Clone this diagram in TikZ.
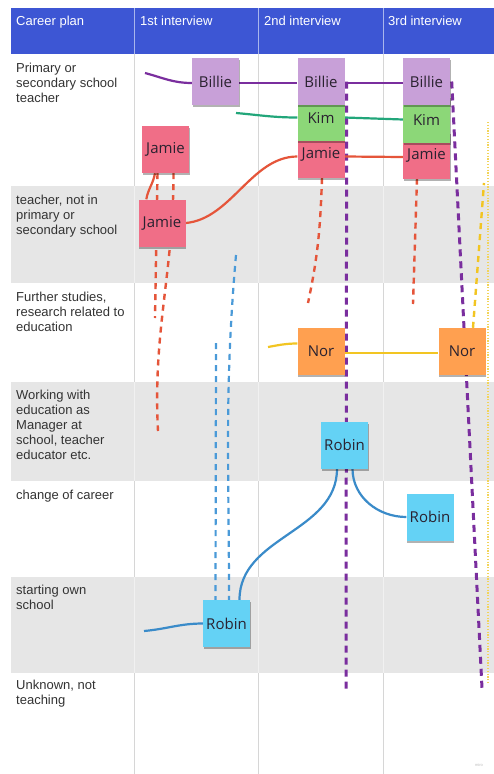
\documentclass[tikz,border=0pt]{standalone}
\usepackage{fontspec}
\setmainfont{Liberation Sans}
\newfontfamily\notefont{Open Sans}
\usetikzlibrary{shadows}
\pgfdeclarelayer{grid}
\pgfdeclarelayer{lines}
\pgfsetlayers{grid,lines,main}

\definecolor{hdr}{HTML}{3D56D4}
\definecolor{band}{HTML}{E6E6E6}
\definecolor{gridc}{HTML}{D6D6D6}
\definecolor{gridl}{HTML}{F1F1F1}
\definecolor{hdrl}{HTML}{A9B6EC}
\definecolor{labelc}{HTML}{333333}
\definecolor{notetext}{HTML}{2A2230}
\definecolor{billie}{HTML}{C8A0D8}
\definecolor{kim}{HTML}{8CD778}
\definecolor{jamie}{HTML}{F06E87}
\definecolor{nor}{HTML}{FFA050}
\definecolor{robin}{HTML}{64D2F5}
\definecolor{billiel}{HTML}{7A2E9E}
\definecolor{kiml}{HTML}{22A67A}
\definecolor{jamiel}{HTML}{E5553A}
\definecolor{norl}{HTML}{F2C522}
\definecolor{norlight}{HTML}{F2D45A}
\definecolor{robinl}{HTML}{3A8BC9}
\definecolor{robind}{HTML}{4A9AD8}

\tikzset{
  hdrtext/.style={anchor=base west, inner sep=0pt, text=white, font=\fontsize{13}{15}\selectfont},
  rowlabel/.style={anchor=north west, inner sep=0pt, align=left, text=labelc, font=\fontsize{13}{15}\selectfont},
  note/.style={minimum width=47pt, minimum height=47pt, inner sep=0pt, text=notetext,
    font=\notefont\fontsize{15}{17}\selectfont,
    drop shadow={shadow xshift=0.5pt, shadow yshift=-2pt, opacity=0.3, fill=black}},
  billieline/.style={draw=billiel, line width=2.2pt},
  kimline/.style={draw=kiml, line width=2.2pt},
  jamieline/.style={draw=jamiel, line width=2.2pt},
  norline/.style={draw=norl, line width=2.2pt},
  robinline/.style={draw=robinl, line width=2.2pt},
  billiedash/.style={draw=billiel, line width=3pt, dash pattern=on 7pt off 5pt},
  jamiedash/.style={draw=jamiel, line width=2.4pt, dash pattern=on 6pt off 5pt},
  robindash/.style={draw=robind, line width=2.2pt, dash pattern=on 6pt off 5pt},
  nordash/.style={draw=norl, line width=2.4pt, dash pattern=on 6pt off 5pt},
  nordot/.style={draw=norlight, line width=1.6pt, dash pattern=on 1.2pt off 1.6pt},
}

\begin{document}
\begin{tikzpicture}[x=1pt,y=-1pt]
\useasboundingbox (0,0) rectangle (494,774);

\begin{pgfonlayer}{grid}
\fill[white] (0,0) rectangle (494,774);
\fill[hdr] (11,8) rectangle (494,54);
\foreach \a/\b in {186/283,382/481,577/673}
  \fill[band] (11,\a) rectangle (494,\b);
\foreach \x in {134,258,383} {
  \draw[hdrl, line width=0.8pt] (\x,8) -- (\x,54);
  \draw[gridc, line width=0.8pt] (\x,54) -- (\x,774);
  \foreach \a/\b in {186/283,382/481,577/673}
    \draw[gridl, line width=0.8pt] (\x,\a) -- (\x,\b);
}
\end{pgfonlayer}

% header
\node[hdrtext] (h0) at (16,25) {Career plan};
\node[hdrtext] (h1) at (140,25) {1st interview};
\node[hdrtext] (h2) at (264,25) {2nd interview};
\node[hdrtext] (h3) at (388,25) {3rd interview};

% row labels
\node[rowlabel] (l1) at (16,63) {Primary or\\secondary school\\teacher};
\node[rowlabel] (l2) at (16,195) {teacher, not in\\primary or\\secondary school};
\node[rowlabel] (l3) at (16,292) {Further studies,\\research related to\\education};
\node[rowlabel] (l4) at (16,390) {Working with\\education as\\Manager at\\school, teacher\\educator etc.};
\node[rowlabel] (l5) at (16,490) {change of career};
\node[rowlabel] (l6) at (16,585) {starting own\\school};
\node[rowlabel] (l7) at (16,680) {Unknown, not\\teaching};

% notes
\node[note, fill=billie] (b1) at (215.5,81.5) {Billie};
\node[note, fill=jamie] (j2) at (321,154.5) {Jamie};
\node[note, fill=kim] (k2) at (321,117.5) {Kim};
\node[note, fill=billie] (b2) at (321,81.5) {Billie};
\node[note, fill=jamie] (j3) at (426.5,155) {Jamie};
\node[note, fill=kim] (k3) at (426.5,119.5) {Kim};
\node[note, fill=billie] (b3) at (426.5,81.5) {Billie};
\node[note, fill=jamie] (j1a) at (165.5,149.5) {Jamie};
\node[note, fill=jamie] (j1b) at (162,223) {Jamie};
\node[note, fill=nor] (n2) at (321,351.5) {Nor};
\node[note, fill=nor] (n3) at (462,351.5) {Nor};
\node[note, fill=robin] (r2) at (344.5,445) {Robin};
\node[note, fill=robin] (r3) at (430,517) {Robin};
\node[note, fill=robin] (r1) at (226.5,623.5) {Robin};

% free ends
\coordinate (bs) at (145,73);
\coordinate (ks) at (236,113);
\coordinate (jd1e) at (155,318);
\coordinate (jd2e) at (158,431);
\coordinate (jd3e) at (308,303);
\coordinate (jd4e) at (413,304);
\coordinate (pd1e) at (346,693);
\coordinate (pd2e) at (482,688);
\coordinate (ys) at (268,347);
\coordinate (yd) at (484,183);
\coordinate (yt) at (488,122);
\coordinate (yb) at (488,683);
\coordinate (rs) at (144,631);
\coordinate (bd1s) at (216,343);
\coordinate (bd2s) at (236,255);

\begin{pgfonlayer}{lines}
% Billie
\draw[billieline] (bs) to[out=-15,in=180] ([yshift=-1.5pt]b1.west);
\draw[billieline] ([yshift=-1.5pt]b1.east) -- ([yshift=-1.5pt]b2.west);
\draw[billieline] ([yshift=-1.5pt]b2.east) -- ([yshift=-1.5pt]b3.west);
\draw[billiedash] ([xshift=2pt]b2.east) -- (pd1e);
\draw[billiedash] ([xshift=1.5pt]b3.east) -- (pd2e);
% Kim
\draw[kimline] (ks) to[out=-5,in=180] (k2.west);
\draw[kimline] (k2.east) -- (k3.west);
% Jamie
\draw[jamieline] ([xshift=8pt]j1b.north west) to[out=80,in=-100] ([xshift=-10.5pt]j1a.south);
\draw[jamieline] (j1b.east) to[out=5,in=180,looseness=0.9] ([yshift=-2pt]j2.west);
\draw[jamieline] ([yshift=-2pt]j2.east) -- ([yshift=-2pt]j3.west);
\draw[jamiedash] ([xshift=-8pt]j1a.south) -- (jd1e);
\draw[jamiedash] ([xshift=8pt]j1a.south) to[out=-90,in=93] (jd2e);
\draw[jamiedash] ([xshift=1pt]j2.south) to[out=-92,in=78] (jd3e);
\draw[jamiedash] ([xshift=-9.5pt]j3.south) -- (jd4e);
% Nor
\draw[norline] (ys) to[out=10,in=180] ([yshift=8pt]n2.west);
\draw[norline] ([yshift=-1.5pt]n2.east) -- ([yshift=-1.5pt]n3.west);
\draw[nordash] ([xshift=11pt]n3.north) -- (yd);
\draw[nordot] (yt) -- (yb);
% Robin
\draw[robinline] (rs) to[out=5,in=180] (r1.west);
\draw[robindash] (bd1s) -- ([xshift=-11pt]r1.north);
\draw[robindash] (bd2s) to[out=-95,in=90] ([xshift=2.5pt]r1.north);
\draw[robinline] ([xshift=13pt]r1.north) to[out=90,in=-90] ([xshift=-7.5pt]r2.south);
\draw[robinline] ([xshift=8pt]r2.south) to[out=-90,in=180] (r3.west);
\end{pgfonlayer}

\node[text=black!25, font=\fontsize{4}{5}\selectfont, inner sep=0pt] (wm) at (479,765) {miro};
\end{tikzpicture}
\end{document}
